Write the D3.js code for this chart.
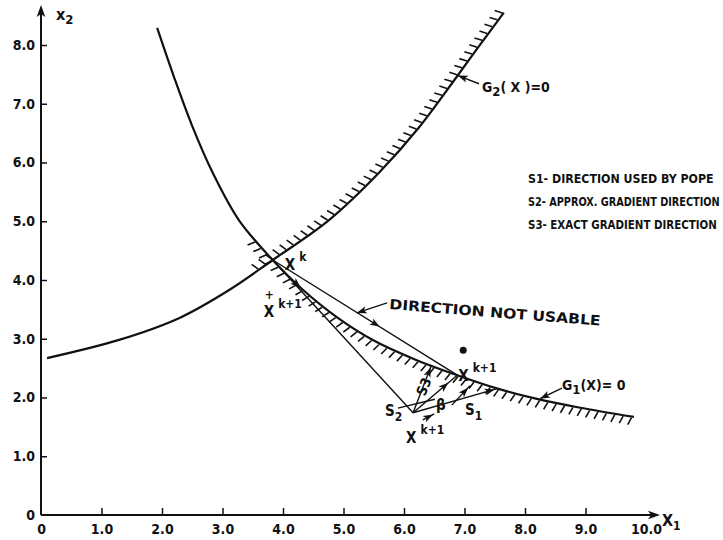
<!DOCTYPE html>
<html>
<head>
<meta charset="utf-8">
<script src="https://cdn.jsdelivr.net/npm/d3@7"></script>
<style>
  body { margin: 0; background: #fff; }
  text { font-family: "DejaVu Sans Condensed", "DejaVu Sans", sans-serif; font-weight: bold; fill: #111; }
</style>
</head>
<body>
<div id="chart"></div>
<script>
var svgWidth = 723;
var svgHeight = 540;

// tick values / labels
var xTickValues = [0, 1, 2, 3, 4, 5, 6, 7, 8, 9, 10];
var yTickValues = [0, 1, 2, 3, 4, 5, 6, 7, 8];

// constraint curves (x1, x2)
var g1Points = [[1.92, 8.29], [2.20, 7.45], [2.50, 6.62], [2.85, 5.80], [3.27, 5.02], [3.83, 4.34],
  [4.30, 3.86], [4.90, 3.36], [5.50, 2.97], [6.20, 2.64], [6.88, 2.38], [7.52, 2.16], [8.18, 1.98],
  [8.89, 1.83], [9.80, 1.67]];
var g2Points = [[0.10, 2.67], [1.29, 2.98], [2.28, 3.35], [3.11, 3.83], [3.83, 4.34], [4.76, 5.02],
  [5.59, 5.83], [6.25, 6.60], [6.83, 7.40], [7.24, 7.98], [7.65, 8.55]];

// special points
var xK = [3.83, 4.34];
var xK1Upper = [6.88, 2.38];
var xK1Lower = [6.15, 1.74];

// straight segments: [from, to, arrow position along segment (null = none)]
var segments = [
  [xK, xK1Upper, 0.58],
  [xK, xK1Lower, null],
  [xK1Lower, [6.45, 2.54], 0.97],
  [xK1Lower, xK1Upper, 0.8],
  [xK1Lower, [7.54, 2.15], 0.97],
  [[6.79, 1.87], [7.09, 2.20], 0.9],
  [[5.90, 1.82], [6.51, 1.97], null],
  [[6.31, 1.62], [6.50, 1.72], 0.9]
];

// leader lines pointing at curves
var leaders = [
  [[5.72, 3.61], [5.22, 3.44]],
  [[7.24, 7.34], [6.89, 7.48]],
  [[8.61, 2.16], [8.25, 1.98]]
];

var legendLines = ["S1- DIRECTION USED BY POPE", "S2- APPROX. GRADIENT DIRECTION", "S3- EXACT GRADIENT DIRECTION"];
var legendWidths = [186, 192, 189];

var svg = d3.select("#chart")
  .append("svg")
  .attr("width", svgWidth)
  .attr("height", svgHeight);

// Scales
// ==============================
var xScale = d3.scaleLinear().domain([0, 10]).range([41, 646]);
var yScale = d3.scaleLinear().domain([0, 8]).range([515, 45]);

function arrowHead(px, py, angle, size) {
  size = size || 9;
  svg.append("path")
    .attr("d", `M0,0 L${-size},${-size * 0.36} L${-size * 0.75},0 L${-size},${size * 0.36} Z`)
    .attr("transform", `translate(${px},${py}) rotate(${angle * 180 / Math.PI})`)
    .attr("fill", "#111");
}

// squeeze a text horizontally to a given width
function fitText(sel, x, y, width, rot) {
  var w = sel.node().getComputedTextLength();
  sel.attr("x", 0).attr("y", 0)
    .attr("transform", `translate(${x},${y}) rotate(${rot || 0}) scale(${width / w},1)`);
}

// Axes
// ==============================
var xAxis = d3.axisBottom(xScale)
  .tickValues(xTickValues)
  .tickSizeInner(-7)
  .tickSizeOuter(0)
  .tickPadding(9)
  .tickFormat(d => d === 0 ? "0" : d3.format(".1f")(d));

var xAxisG = svg.append("g")
  .attr("transform", `translate(0, ${yScale(0)})`)
  .call(xAxis);
xAxisG.select(".domain").remove();
xAxisG.selectAll(".tick").filter(d => d === 0 || d === 10).select("line").remove();
xAxisG.selectAll(".tick line").attr("stroke", "#111").attr("stroke-width", 1.5);
xAxisG.selectAll(".tick text").attr("font-size", 14).attr("fill", "#111").attr("font-family", null);

var yAxis = d3.axisLeft(yScale)
  .tickValues(yTickValues)
  .tickSizeInner(-6)
  .tickSizeOuter(0)
  .tickPadding(6)
  .tickFormat(d => d === 0 ? "0" : d3.format(".1f")(d));

var yAxisG = svg.append("g")
  .attr("transform", `translate(${xScale(0)}, 0)`)
  .call(yAxis);
yAxisG.select(".domain").remove();
yAxisG.selectAll(".tick").filter(d => d === 0).select("line").remove();
yAxisG.selectAll(".tick line").attr("stroke", "#111").attr("stroke-width", 1.5);
yAxisG.selectAll(".tick text").attr("font-size", 14).attr("fill", "#111").attr("font-family", null);

// axis lines with arrows
svg.append("line")
  .attr("x1", xScale(0)).attr("y1", yScale(0))
  .attr("x2", 652).attr("y2", yScale(0))
  .attr("stroke", "#111").attr("stroke-width", 2);
arrowHead(660, yScale(0), 0, 12);
svg.append("line")
  .attr("x1", xScale(0)).attr("y1", yScale(0))
  .attr("x2", xScale(0)).attr("y2", 14)
  .attr("stroke", "#111").attr("stroke-width", 2);
arrowHead(xScale(0), 5, -Math.PI / 2, 12);

var x1Label = svg.append("text").attr("x", 662).attr("y", 526).attr("font-size", 16).text("X");
x1Label.append("tspan").attr("dy", 4).attr("font-size", 12).text("1");
var x2Label = svg.append("text").attr("x", 56).attr("y", 20).attr("font-size", 16).text("x");
x2Label.append("tspan").attr("dy", 4).attr("font-size", 13).text("2");

// Curves
// ==============================
var lineGen = d3.line()
  .x(d => xScale(d[0]))
  .y(d => yScale(d[1]))
  .curve(d3.curveCatmullRom);

var g1Path = svg.append("path")
  .datum(g1Points)
  .attr("d", lineGen)
  .attr("fill", "none")
  .attr("stroke", "#111")
  .attr("stroke-width", 2.2);

var g2Path = svg.append("path")
  .datum(g2Points)
  .attr("d", lineGen)
  .attr("fill", "none")
  .attr("stroke", "#111")
  .attr("stroke-width", 2.2);

function lengthAtX(node, px) {
  var lo = 0, hi = node.getTotalLength();
  for (var i = 0; i < 40; i++) {
    var mid = (lo + hi) / 2;
    if (node.getPointAtLength(mid).x < px) lo = mid; else hi = mid;
  }
  return lo;
}

// hatch marks on the infeasible side
function hatch(path, side, fromX, toX, step, len, slant) {
  var node = path.node();
  var L = node.getTotalLength();
  var s0 = lengthAtX(node, xScale(fromX));
  var s1 = lengthAtX(node, xScale(toX));
  for (var s = s0; s <= s1; s += step) {
    var p = node.getPointAtLength(s);
    var a = node.getPointAtLength(Math.max(s - 1, 0));
    var b = node.getPointAtLength(Math.min(s + 1, L));
    var tx = b.x - a.x, ty = b.y - a.y, n = Math.hypot(tx, ty);
    tx /= n; ty /= n;
    var nx = -ty * side, ny = tx * side;
    var c = Math.cos(slant), sn = Math.sin(slant);
    var dx = nx * c - ny * sn, dy = nx * sn + ny * c;
    svg.append("line")
      .attr("x1", p.x + nx * 1).attr("y1", p.y + ny * 1)
      .attr("x2", p.x + dx * len).attr("y2", p.y + dy * len)
      .attr("stroke", "#111")
      .attr("stroke-width", 1.6);
  }
}

hatch(g1Path, 1, 3.55, 9.8, 8.5, 9, 0.3);
hatch(g2Path, -1, 3.6, 7.65, 8.5, 9, -0.3);

// arrow on G1 just after X^k
(function() {
  var node = g1Path.node();
  var s = lengthAtX(node, xScale(4.3));
  var p = node.getPointAtLength(s), q = node.getPointAtLength(s + 2);
  arrowHead(p.x, p.y, Math.atan2(q.y - p.y, q.x - p.x), 11);
})();

// Segments and leaders
// ==============================
segments.forEach(function(seg) {
  var x1 = xScale(seg[0][0]), y1 = yScale(seg[0][1]);
  var x2 = xScale(seg[1][0]), y2 = yScale(seg[1][1]);
  svg.append("line")
    .attr("x1", x1).attr("y1", y1).attr("x2", x2).attr("y2", y2)
    .attr("stroke", "#111").attr("stroke-width", 1.4);
  if (seg[2] !== null) {
    arrowHead(x1 + (x2 - x1) * seg[2], y1 + (y2 - y1) * seg[2], Math.atan2(y2 - y1, x2 - x1), 10);
  }
});

leaders.forEach(function(ld) {
  var x1 = xScale(ld[0][0]), y1 = yScale(ld[0][1]);
  var x2 = xScale(ld[1][0]), y2 = yScale(ld[1][1]);
  svg.append("line")
    .attr("x1", x1).attr("y1", y1).attr("x2", x2).attr("y2", y2)
    .attr("stroke", "#111").attr("stroke-width", 1.4);
  arrowHead(x2, y2, Math.atan2(y2 - y1, x2 - x1), 10);
});

// blob above upper X^{k+1}
svg.append("circle")
  .attr("cx", xScale(xK1Upper[0]) + 6).attr("cy", yScale(xK1Upper[1]) - 25)
  .attr("r", 3.5).attr("fill", "#111");

// Labels
// ==============================
function supLabel(x, y, main, sup, size) {
  var t = svg.append("text").attr("x", x).attr("y", y).attr("font-size", size || 15).text(main);
  t.append("tspan").attr("dx", 4).attr("dy", -9).attr("font-size", 12).text(sup);
  return t;
}
function subLabel(x, y, main, sub) {
  var t = svg.append("text").attr("x", x).attr("y", y).attr("font-size", 15).text(main);
  t.append("tspan").attr("dy", 5).attr("font-size", 12).text(sub);
  return t;
}

supLabel(xScale(xK[0]) + 12, yScale(xK[1]) + 10, "X", "k");
supLabel(xScale(xK[0]) - 9, yScale(xK[1]) + 57, "X", "k+1");
svg.append("text").attr("x", xScale(xK[0]) - 8).attr("y", yScale(xK[1]) + 39).attr("font-size", 12).text("+");
supLabel(xScale(xK1Upper[0]) + 1, yScale(xK1Upper[1]) + 6, "X", "k+1");
supLabel(xScale(xK1Lower[0]) - 7, yScale(xK1Lower[1]) + 30, "X", "k+1");
subLabel(xScale(xK1Lower[0]) - 28, yScale(xK1Lower[1]) + 3, "S", "2");
subLabel(xScale(xK1Lower[0]) + 52, yScale(xK1Lower[1]) + 2, "S", "1");
svg.append("text")
  .attr("transform", `translate(${xScale(xK1Lower[0]) + 12}, ${yScale(xK1Lower[1]) - 16}) rotate(-68)`)
  .attr("font-size", 14).text("S3");
svg.append("text")
  .attr("x", xScale(xK1Lower[0]) + 23).attr("y", yScale(xK1Lower[1]) - 3)
  .attr("font-size", 15).text("β");

var notUsable = svg.append("text")
  .attr("font-size", 14)
  .text("DIRECTION NOT USABLE");
fitText(notUsable, 389, 309, 212, 4.5);

var g2Label = svg.append("text").attr("x", 482).attr("y", 92).attr("font-size", 14).text("G");
g2Label.append("tspan").attr("dy", 4).attr("font-size", 13).text("2");
g2Label.append("tspan").attr("dy", -4).text("( X )=0");

var g1Label = svg.append("text").attr("x", 562).attr("y", 390).attr("font-size", 14).text("G");
g1Label.append("tspan").attr("dy", 4).attr("font-size", 13).text("1");
g1Label.append("tspan").attr("dy", -4).text("(X)= 0");

svg.selectAll(".legend")
  .data(legendLines)
  .enter()
  .append("text")
  .attr("class", "legend")
  .attr("font-size", 13)
  .text(d => d)
  .each(function(d, i) {
    fitText(d3.select(this), 528, 183 + i * 23, legendWidths[i]);
  });
</script>
</body>
</html>
